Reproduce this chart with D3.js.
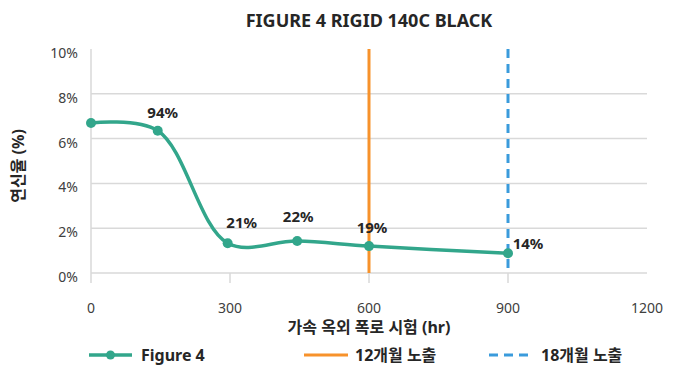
<!DOCTYPE html>
<html>
<head>
<meta charset="utf-8">
<script src="https://cdn.jsdelivr.net/npm/d3@7"></script>
<style>
  body { margin: 0; background: #fff; }
  text { font-family: "Noto Sans", "Noto Sans CJK KR", sans-serif; }
</style>
</head>
<body>
<div id="chart"></div>
<script>
/* DATA */
const hours = [0, 144, 295, 445, 600, 900]
const elongation = [6.7, 6.35, 1.33, 1.43, 1.2, 0.88]
const retention = [null, "94%", "21%", "22%", "19%", "14%"]
const exposureHours = [600, 900]
const exposureNames = ["12개월 노출", "18개월 노출"]
const xTicks = [0, 300, 600, 900, 1200]
const yTicks = [0, 2, 4, 6, 8, 10]

/* CONSTANTS */
const width = 681,
  height = 367,
  margin = { top: 49, bottom: 94, left: 91, right: 34 }

const teal = "#32a68b", orange = "#f7922b", blue = "#3a9bdc"

// label nudges (dx, dy) relative to each point
const labelOffsets = [[0, 0], [5, -18], [14, -20], [1, -24], [3, -18], [20, -9]]

const svg = d3.select("#chart")
  .append("svg")
  .attr("width", width)
  .attr("height", height)

//scales
const xScale = d3.scaleLinear()
  .domain([0, 1200])
  .range([margin.left, width - margin.right])

const yScale = d3.scaleLinear()
  .domain([0, 10])
  .range([height - margin.bottom, margin.top])

//gridlines
svg.selectAll(".grid")
  .data(yTicks.filter(d => d < 10))
  .join("line")
  .attr("class", "grid")
  .attr("x1", xScale(0))
  .attr("x2", xScale(1200))
  .attr("y1", d => yScale(d))
  .attr("y2", d => yScale(d))
  .attr("stroke", "#d9d9d9")
  .attr("stroke-width", 1.5)

//left axis line
svg.append("line")
  .attr("x1", xScale(0)).attr("x2", xScale(0))
  .attr("y1", yScale(10)).attr("y2", yScale(0))
  .attr("stroke", "#d9d9d9")
  .attr("stroke-width", 1.5)

//x ticks
svg.selectAll(".xtick")
  .data(xTicks.slice(0, 4))
  .join("line")
  .attr("class", "xtick")
  .attr("x1", d => xScale(d)).attr("x2", d => xScale(d))
  .attr("y1", yScale(0)).attr("y2", yScale(0) + 10)
  .attr("stroke", "#d9d9d9")
  .attr("stroke-width", 1.5)

svg.selectAll(".xlabel")
  .data(xTicks)
  .join("text")
  .attr("class", "xlabel")
  .attr("x", d => xScale(d))
  .attr("y", yScale(0) + 40)
  .attr("text-anchor", "middle")
  .attr("font-size", "14px")
  .attr("fill", "#404040")
  .text(d => d)

svg.selectAll(".ylabel")
  .data(yTicks)
  .join("text")
  .attr("class", "ylabel")
  .attr("x", xScale(0) - 13)
  .attr("y", d => yScale(d) + 9)
  .attr("text-anchor", "end")
  .attr("font-size", "14px")
  .attr("fill", "#404040")
  .text(d => d + "%")

//exposure lines
svg.append("line")
  .attr("x1", xScale(exposureHours[0])).attr("x2", xScale(exposureHours[0]))
  .attr("y1", yScale(10)).attr("y2", yScale(0))
  .attr("stroke", orange)
  .attr("stroke-width", 3)

svg.append("line")
  .attr("x1", xScale(exposureHours[1])).attr("x2", xScale(exposureHours[1]))
  .attr("y1", yScale(10)).attr("y2", yScale(0))
  .attr("stroke", blue)
  .attr("stroke-width", 3)
  .attr("stroke-dasharray", "9,6")

//series
const points = hours.map((h, i) => ({ h, v: elongation[i], label: retention[i], off: labelOffsets[i] }))

const lineGen = d3.line()
  .x(d => xScale(d.h))
  .y(d => yScale(d.v))
  .curve(d3.curveCatmullRom.alpha(0.5))

svg.append("path")
  .datum(points)
  .attr("d", lineGen)
  .attr("fill", "none")
  .attr("stroke", teal)
  .attr("stroke-width", 3.5)

svg.selectAll(".dot")
  .data(points)
  .join("circle")
  .attr("class", "dot")
  .attr("cx", d => xScale(d.h))
  .attr("cy", d => yScale(d.v))
  .attr("r", 5)
  .attr("fill", teal)

svg.selectAll(".pointLabel")
  .data(points.filter(d => d.label))
  .join("text")
  .attr("class", "pointLabel")
  .attr("x", d => xScale(d.h) + d.off[0])
  .attr("y", d => yScale(d.v) + d.off[1] + 5)
  .attr("text-anchor", "middle")
  .attr("font-size", "15px")
  .attr("font-weight", "bold")
  .attr("fill", "#262626")
  .text(d => d.label)

//titles
svg.append("text")
  .attr("x", 369)
  .attr("y", 27)
  .attr("text-anchor", "middle")
  .attr("font-size", "18px")
  .attr("font-weight", "bold")
  .attr("fill", "#262626")
  .text("FIGURE 4 RIGID 140C BLACK")

svg.append("text")
  .attr("x", 369)
  .attr("y", 333)
  .attr("text-anchor", "middle")
  .attr("font-size", "16px")
  .attr("font-weight", "bold")
  .attr("fill", "#262626")
  .text("가속 옥외 폭로 시험 (hr)")

svg.append("text")
  .attr("transform", "translate(24," + 166 + ") rotate(-90)")
  .attr("text-anchor", "middle")
  .attr("font-size", "16px")
  .attr("font-weight", "bold")
  .attr("fill", "#262626")
  .text("연신율 (%)")

//legend
const ly = 355
const legend = svg.append("g")

legend.append("line")
  .attr("x1", 89).attr("x2", 132).attr("y1", ly).attr("y2", ly)
  .attr("stroke", teal).attr("stroke-width", 3.5)
legend.append("circle")
  .attr("cx", 110.5).attr("cy", ly).attr("r", 4.5).attr("fill", teal)
legend.append("text")
  .attr("x", 141).attr("y", ly + 6)
  .attr("font-size", "16px").attr("font-weight", "bold").attr("fill", "#262626")
  .text("Figure 4")

legend.append("line")
  .attr("x1", 304).attr("x2", 348).attr("y1", ly).attr("y2", ly)
  .attr("stroke", orange).attr("stroke-width", 3)
legend.append("text")
  .attr("x", 355).attr("y", ly + 6)
  .attr("font-size", "16px").attr("font-weight", "bold").attr("fill", "#262626")
  .text(exposureNames[0])

legend.append("line")
  .attr("x1", 489).attr("x2", 534).attr("y1", ly).attr("y2", ly)
  .attr("stroke", blue).attr("stroke-width", 3)
  .attr("stroke-dasharray", "9,6")
legend.append("text")
  .attr("x", 541).attr("y", ly + 6)
  .attr("font-size", "16px").attr("font-weight", "bold").attr("fill", "#262626")
  .text(exposureNames[1])
</script>
</body>
</html>
